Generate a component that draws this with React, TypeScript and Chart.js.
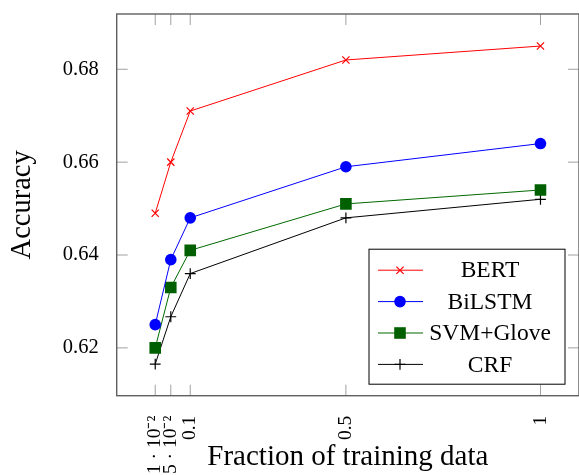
import React, { useRef, useEffect } from 'react';
import { Chart, registerables } from 'chart.js';
import { drawPoint } from 'chart.js/helpers';

Chart.register(...registerables);

const fractions = [0.01, 0.05, 0.1, 0.5, 1];
const xTickValues = [0.01, 0.05, 0.1, 0.5, 1];
const xTickLabels = ['1 · 10⁻²', '5 · 10⁻²', '0.1', '0.5', '1'];
const yTickValues = [0.62, 0.64, 0.66, 0.68];

const bert = [0.649, 0.66, 0.671, 0.682, 0.685];
const bilstm = [0.625, 0.639, 0.648, 0.659, 0.664];
const svmGlove = [0.62, 0.633, 0.641, 0.651, 0.654];
const crf = [0.6165, 0.6267, 0.636, 0.648, 0.652];

const SERIF = '"Liberation Serif", "Times New Roman", serif';

const toPoints = (ys: number[]) => ys.map((y, i) => ({ x: fractions[i], y }));

// no extra room for the edge labels, the layout padding decides
const noScalePadding = (scale: any) => {
  scale.paddingLeft = 0;
  scale.paddingRight = 0;
  scale.paddingTop = 0;
  scale.paddingBottom = 0;
};

// pgfplots-style frame with inward ticks on all four sides
const framePlugin = {
  id: 'frame',
  afterDatasetsDraw(chart: any) {
    const { ctx, chartArea: a, scales } = chart;
    const len = 11;
    ctx.save();
    ctx.strokeStyle = '#a0a0a0';
    ctx.lineWidth = 1;
    xTickValues.forEach(v => {
      const px = scales.x.getPixelForValue(v);
      ctx.beginPath();
      ctx.moveTo(px, a.bottom);
      ctx.lineTo(px, a.bottom - len);
      ctx.moveTo(px, a.top);
      ctx.lineTo(px, a.top + len);
      ctx.stroke();
    });
    yTickValues.forEach(v => {
      const py = scales.y.getPixelForValue(v);
      ctx.beginPath();
      ctx.moveTo(a.left, py);
      ctx.lineTo(a.left + len, py);
      ctx.moveTo(a.right, py);
      ctx.lineTo(a.right - len, py);
      ctx.stroke();
    });
    ctx.strokeStyle = '#606060';
    ctx.lineWidth = 1.4;
    ctx.strokeRect(a.left, a.top, a.right - a.left, a.bottom - a.top);
    ctx.restore();
  }
};

// boxed legend, text centred in its column
const legendPlugin = {
  id: 'boxLegend',
  afterDraw(chart: any) {
    const { ctx, chartArea: a } = chart;
    const right = a.right - 14;
    const bottom = a.bottom - 11.5;
    const left = right - 196;
    const top = bottom - 135;
    ctx.save();
    ctx.fillStyle = '#ffffff';
    ctx.fillRect(left, top, right - left, bottom - top);
    ctx.strokeStyle = '#000000';
    ctx.lineWidth = 1;
    ctx.strokeRect(left, top, right - left, bottom - top);
    chart.data.datasets.forEach((ds: any, i: number) => {
      const y = top + 21 + i * 31.4;
      ctx.strokeStyle = ds.borderColor;
      ctx.lineWidth = 1;
      ctx.beginPath();
      ctx.moveTo(left + 9, y);
      ctx.lineTo(left + 54, y);
      ctx.stroke();
      ctx.fillStyle = ds.pointBackgroundColor;
      ctx.strokeStyle = ds.pointBorderColor;
      ctx.lineWidth = ds.pointBorderWidth;
      drawPoint(ctx, { pointStyle: ds.pointStyle, radius: ds.pointRadius, rotation: 0, borderWidth: ds.pointBorderWidth }, left + 31, y);
      ctx.fillStyle = '#000000';
      ctx.font = `23.5px ${SERIF}`;
      ctx.textAlign = 'center';
      ctx.textBaseline = 'middle';
      ctx.fillText(ds.label, left + 121, y + 1);
    });
    ctx.restore();
  }
};

const App: React.FC = () => {
  const canvasRef = useRef<HTMLCanvasElement>(null);
  const chartRef = useRef<Chart | null>(null);

  useEffect(() => {
    document.body.style.margin = '0';
    if (!canvasRef.current) return;
    if (chartRef.current) chartRef.current.destroy();
    const ctx = canvasRef.current.getContext('2d');
    if (!ctx) return;

    const series = (label: string, ys: number[], color: string, fill: string, style: string, radius: number) => ({
      label,
      data: toPoints(ys),
      borderColor: color,
      backgroundColor: fill,
      pointBackgroundColor: fill,
      pointBorderColor: style === 'circle' || style === 'rect' ? fill : color,
      pointBorderWidth: style === 'circle' || style === 'rect' ? 0 : 1.2,
      pointStyle: style,
      pointRadius: radius,
      borderWidth: 1,
      tension: 0,
      fill: false
    });

    chartRef.current = new Chart(ctx, {
      type: 'line',
      data: {
        datasets: [
          series('BERT', bert, '#ff0000', '#ff0000', 'crossRot', 5.1),
          series('BiLSTM', bilstm, '#0000ff', '#0000ff', 'circle', 5.8),
          series('SVM+Glove', svmGlove, '#006a00', '#005f00', 'rect', 8.2),
          series('CRF', crf, '#000000', '#000000', 'cross', 5.4)
        ] as any
      },
      options: {
        animation: false,
        responsive: true,
        maintainAspectRatio: false,
        layout: { autoPadding: false, padding: { left: 0, top: 14, right: 0, bottom: 0 } },
        plugins: {
          legend: { display: false },
          tooltip: { enabled: false }
        },
        scales: {
          x: {
            type: 'linear',
            min: -0.089,
            max: 1.099,
            grid: { display: false },
            border: { display: false },
            afterBuildTicks: (scale: any) => {
              scale.ticks = xTickValues.map(v => ({ value: v }));
            },
            afterFit: (scale: any) => {
              scale.height = 79.3;
              noScalePadding(scale);
            },
            ticks: {
              autoSkip: false,
              minRotation: 90,
              maxRotation: 90,
              padding: 12,
              color: '#000000',
              font: { family: SERIF, size: 19.5 },
              callback: (value: any) => {
                const idx = xTickValues.indexOf(Number(value));
                return idx >= 0 ? xTickLabels[idx] : '';
              }
            },
            title: {
              display: true,
              text: 'Fraction of training data',
              color: '#000000',
              font: { family: SERIF, size: 29, lineHeight: 1.2 },
              padding: { top: 0, bottom: 0 }
            }
          },
          y: {
            type: 'linear',
            min: 0.6097,
            max: 0.6919,
            grid: { display: false },
            border: { display: false },
            afterBuildTicks: (scale: any) => {
              scale.ticks = yTickValues.map(v => ({ value: v }));
            },
            afterFit: (scale: any) => {
              scale.width = 116.7;
              noScalePadding(scale);
            },
            ticks: {
              padding: 10,
              color: '#000000',
              font: { family: SERIF, size: 20.5 },
              callback: (value: any) => Number(value).toFixed(2)
            },
            title: {
              display: true,
              text: 'Accuracy',
              color: '#000000',
              font: { family: SERIF, size: 28.5, lineHeight: 1.2 },
              padding: { top: 5, bottom: 0 }
            }
          }
        }
      },
      plugins: [framePlugin, legendPlugin]
    });

    return () => {
      if (chartRef.current) {
        chartRef.current.destroy();
        chartRef.current = null;
      }
    };
  }, []);

  return (
    <div style={{ width: '579px', height: '475px', position: 'relative' }}>
      <canvas ref={canvasRef}></canvas>
    </div>
  );
};

export default App;
